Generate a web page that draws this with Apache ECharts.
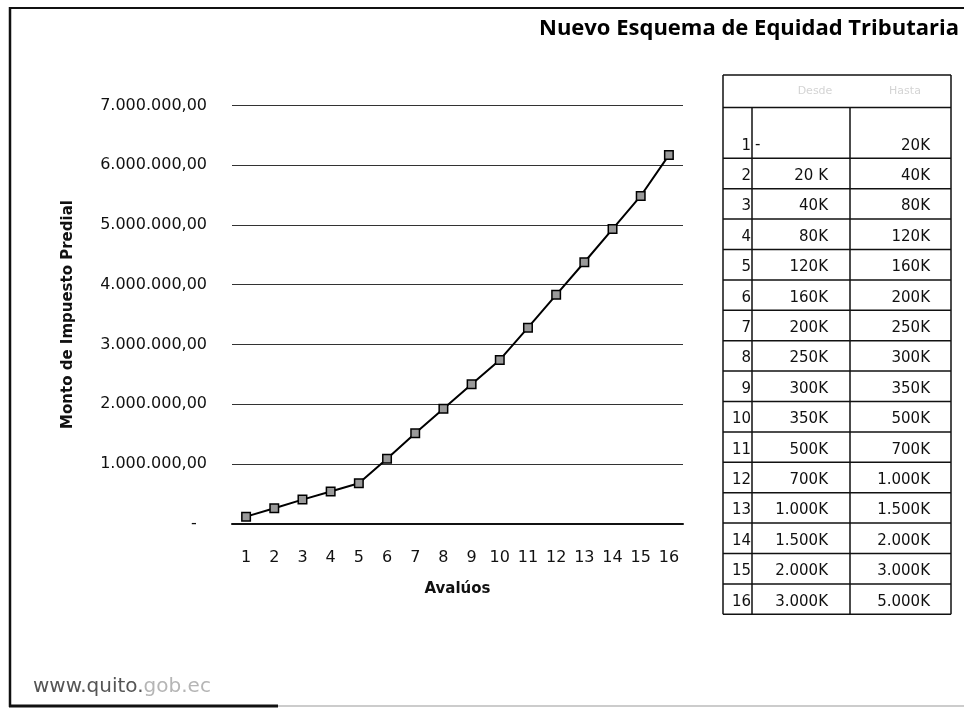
<!DOCTYPE html>
<html lang="es">
<head>
<meta charset="UTF-8">
<title>Nuevo Esquema de Equidad Tributaria</title>
<script src="https://cdn.jsdelivr.net/npm/echarts@6.0.0/dist/echarts.min.js"></script>
<style>
  html, body { margin: 0; padding: 0; background: #fff; }
  #main { width: 964px; height: 712px; }
</style>
</head>
<body>
<div id="main"></div>
<script>
// datos
var avaluos = ['1', '2', '3', '4', '5', '6', '7', '8', '9', '10', '11', '12', '13', '14', '15', '16'];
var montoImpuesto = [115000, 255000, 400000, 535000, 675000, 1085000, 1510000, 1920000,
                     2330000, 2740000, 3280000, 3830000, 4375000, 4930000, 5485000, 6170000];
var tramoDesde = ['-', '20 K', '40K', '80K', '120K', '160K', '200K', '250K',
                  '300K', '350K', '500K', '700K', '1.000K', '1.500K', '2.000K', '3.000K'];
var tramoHasta = ['20K', '40K', '80K', '120K', '160K', '200K', '250K', '300K',
                  '350K', '500K', '700K', '1.000K', '1.500K', '2.000K', '3.000K', '5.000K'];
var encabezado = ['Desde', 'Hasta'];

var myChart = echarts.init(document.getElementById('main'));

function fmtMonto(v) {
    if (v === 0) return '-  ';
    return String(v).replace(/\B(?=(\d{3})+(?!\d))/g, '.') + ',00';
}

// tabla de tramos (a la derecha)
var tX = [723, 752, 850, 951];
var tTop = 75, tHead = 107.5, tRow1 = 158.3, rowH = 30.4;
var tBottom = tRow1 + rowH * (tramoDesde.length - 1);
var lineStyle = { stroke: '#111', lineWidth: 1.5 };
var tabla = [];
function hline(y, x1, x2) {
    tabla.push({ type: 'line', shape: { x1: x1, y1: y, x2: x2, y2: y }, style: lineStyle, silent: true });
}
function vline(x, y1, y2) {
    tabla.push({ type: 'line', shape: { x1: x, y1: y1, x2: x, y2: y2 }, style: lineStyle, silent: true });
}
hline(tTop, tX[0], tX[3]);
hline(tHead, tX[0], tX[3]);
vline(tX[0], tTop, tBottom);
vline(tX[3], tTop, tBottom);
vline(tX[1], tHead, tBottom);
vline(tX[2], tHead, tBottom);
for (var i = 0; i < tramoDesde.length; i++) {
    var yb = tRow1 + rowH * i;
    hline(yb, tX[0], tX[3]);
    var yc = yb - 12.5;
    tabla.push({ type: 'text', x: tX[1] - 1, y: yc,
        style: { text: String(i + 1), align: 'right', verticalAlign: 'middle',
                 font: '15px "DejaVu Sans"', fill: '#111' } });
    if (tramoDesde[i] === '-') {
        tabla.push({ type: 'text', x: tX[1] + 3, y: yc - 1,
            style: { text: '-', align: 'left', verticalAlign: 'middle',
                     font: '15px "DejaVu Sans"', fill: '#111' } });
    } else {
        tabla.push({ type: 'text', x: 828, y: yc,
            style: { text: tramoDesde[i], align: 'right', verticalAlign: 'middle',
                     font: '15px "DejaVu Sans"', fill: '#111' } });
    }
    tabla.push({ type: 'text', x: 930, y: yc,
        style: { text: tramoHasta[i], align: 'right', verticalAlign: 'middle',
                 font: '15px "DejaVu Sans"', fill: '#111' } });
}
tabla.push({ type: 'text', x: 815, y: 91,
    style: { text: encabezado[0], align: 'center', verticalAlign: 'middle',
             font: '11px "DejaVu Sans"', fill: '#d4d4d4' } });
tabla.push({ type: 'text', x: 905, y: 91,
    style: { text: encabezado[1], align: 'center', verticalAlign: 'middle',
             font: '11px "DejaVu Sans"', fill: '#d4d4d4' } });

// marco de la pagina
var marco = [
    { type: 'line', shape: { x1: 9, y1: 8, x2: 964, y2: 8 }, style: { stroke: '#111', lineWidth: 2 } },
    { type: 'line', shape: { x1: 10, y1: 7, x2: 10, y2: 707 }, style: { stroke: '#111', lineWidth: 2.5 } },
    { type: 'line', shape: { x1: 9, y1: 706, x2: 278, y2: 706 }, style: { stroke: '#111', lineWidth: 3 } },
    { type: 'line', shape: { x1: 278, y1: 706, x2: 964, y2: 706 }, style: { stroke: '#bbb', lineWidth: 1.5 } },
    { type: 'text', x: 33, y: 687,
      style: { text: '{a|www.quito.}{b|gob.ec}', verticalAlign: 'middle',
               rich: { a: { font: '20px "DejaVu Sans"', fill: '#555' },
                       b: { font: '20px "DejaVu Sans"', fill: '#b5b5b5' } } } }
];

var option = {
    backgroundColor: '#fff',
    animation: false,
    title: {
        text: 'Nuevo Esquema de Equidad Tributaria',
        right: 0,
        top: 13,
        textStyle: { fontFamily: 'Open Sans', fontWeight: 'bold', fontSize: 22, color: '#000' }
    },
    grid: { left: 232, right: 281, top: 105.5, bottom: 188.5 },
    xAxis: {
        type: 'category',
        data: avaluos,
        name: 'Avalúos',
        nameLocation: 'middle',
        nameGap: 58,
        nameTextStyle: { fontFamily: 'DejaVu Sans', fontWeight: 'bold', fontSize: 15, color: '#111' },
        axisLine: { lineStyle: { color: '#111', width: 2 } },
        axisTick: { show: false },
        axisLabel: { margin: 26, fontFamily: 'DejaVu Sans', fontSize: 16, color: '#111' }
    },
    yAxis: {
        type: 'value',
        min: 0,
        max: 7000000,
        interval: 1000000,
        name: 'Monto de Impuesto Predial',
        nameLocation: 'middle',
        nameGap: 156,
        nameTextStyle: { fontFamily: 'DejaVu Sans', fontWeight: 'bold', fontSize: 15, color: '#111' },
        axisLine: { show: false },
        axisTick: { show: false },
        axisLabel: { margin: 25, fontFamily: 'DejaVu Sans', fontSize: 16, color: '#111', formatter: fmtMonto },
        splitLine: { lineStyle: { color: '#333', width: 1 } }
    },
    series: [{
        type: 'line',
        data: montoImpuesto,
        symbol: 'rect',
        symbolSize: 8.5,
        lineStyle: { color: '#000', width: 2 },
        itemStyle: { color: '#9a9a9a', borderColor: '#000', borderWidth: 1.5 }
    }],
    graphic: { elements: marco.concat(tabla) }
};

myChart.setOption(option);
</script>
</body>
</html>
